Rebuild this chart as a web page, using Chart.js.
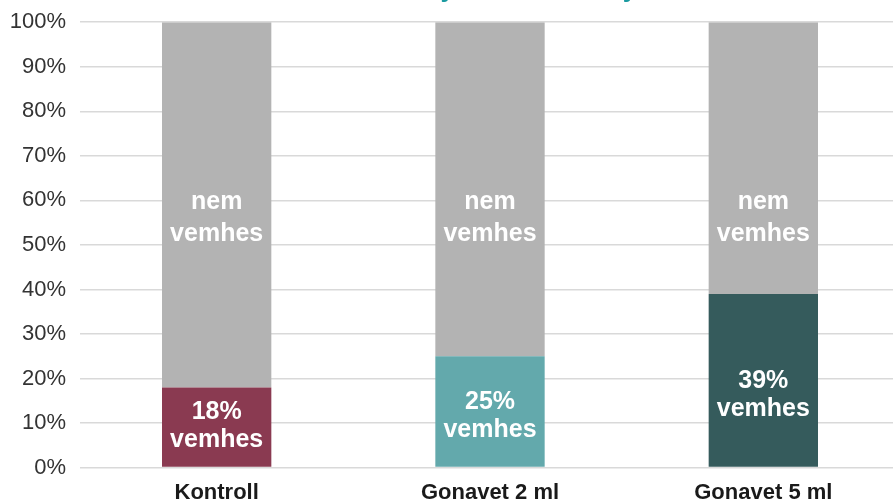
<!DOCTYPE html>
<html>
<head>
<meta charset="utf-8">
<script src="https://cdn.jsdelivr.net/npm/chart.js@4/dist/chart.umd.min.js"></script>
<style>
  html, body { margin: 0; padding: 0; background: #fff; overflow: hidden; }
  body { width: 893px; height: 502px; position: relative; }
  #wrap { position: absolute; left: 0; top: -26px; width: 900px; height: 536px; }
</style>
</head>
<body>
<div id="wrap"><canvas id="chart"></canvas></div>
<script>
const categories = ["Kontroll", "Gonavet 2 ml", "Gonavet 5 ml"];
const vemhes = [18, 25, 39];
const nemVemhes = [82, 75, 61];
const barColors = ["#8a3a51", "#63a9ac", "#355b5c"];
const yTicks = [0, 10, 20, 30, 40, 50, 60, 70, 80, 90, 100];

// feliratok a szegmenseken
const barText = {
  id: 'barText',
  afterDatasetsDraw(chart) {
    const ctx = chart.ctx;
    const y = chart.scales.y;
    ctx.save();
    ctx.fillStyle = '#fff';
    ctx.font = 'bold 25px "Liberation Sans", Arial, sans-serif';
    ctx.textAlign = 'center';
    ctx.textBaseline = 'middle';
    chart.getDatasetMeta(0).data.forEach((bar, i) => {
      const cy = y.getPixelForValue(vemhes[i] * 0.33 + 3.3);
      ctx.fillText(vemhes[i] + '%', bar.x, cy - 14);
      ctx.fillText('vemhes', bar.x, cy + 14);
    });
    chart.getDatasetMeta(1).data.forEach((bar, i) => {
      const cy = y.getPixelForValue(56);
      ctx.fillText('nem', bar.x, cy - 16);
      ctx.fillText('vemhes', bar.x, cy + 16);
    });
    ctx.restore();
  }
};

new Chart(document.getElementById('chart'), {
  type: 'bar',
  data: {
    labels: categories,
    datasets: [
      { label: 'vemhes', data: vemhes, backgroundColor: barColors },
      { label: 'nem vemhes', data: nemVemhes, backgroundColor: '#b3b3b3' }
    ]
  },
  options: {
    responsive: true,
    maintainAspectRatio: false,
    animation: false,
    datasets: { bar: { barPercentage: 0.4, categoryPercentage: 1, borderWidth: 0 } },
    layout: { padding: { left: 0, right: 0, top: 0, bottom: 0 } },
    plugins: {
      legend: { display: false },
      tooltip: { enabled: false },
      title: {
        display: true,
        text: 'Első termékenyítési eredmény',
        color: '#1a9aa0',
        font: { family: '"Liberation Sans", Arial, sans-serif', size: 26, weight: 'bold' },
        padding: { top: 0, bottom: 17 }
      }
    },
    scales: {
      x: {
        stacked: true,
        grid: { display: false },
        border: { display: false },
        ticks: {
          color: '#1a1a1a',
          padding: 4,
          font: { family: '"Liberation Sans", Arial, sans-serif', size: 22, weight: 'bold' }
        }
      },
      y: {
        stacked: true,
        min: 0,
        max: 100,
        afterBuildTicks(axis) { axis.ticks = yTicks.map(v => ({ value: v })); },
        afterFit(axis) { axis.width = 80; },
        grid: { color: '#d9d9d9', lineWidth: 1.5, drawTicks: false },
        border: { display: false },
        ticks: {
          color: '#333',
          padding: 14,
          font: { family: '"Liberation Sans", Arial, sans-serif', size: 22 },
          callback: v => v + '%'
        }
      }
    }
  },
  plugins: [barText]
});
</script>
</body>
</html>
